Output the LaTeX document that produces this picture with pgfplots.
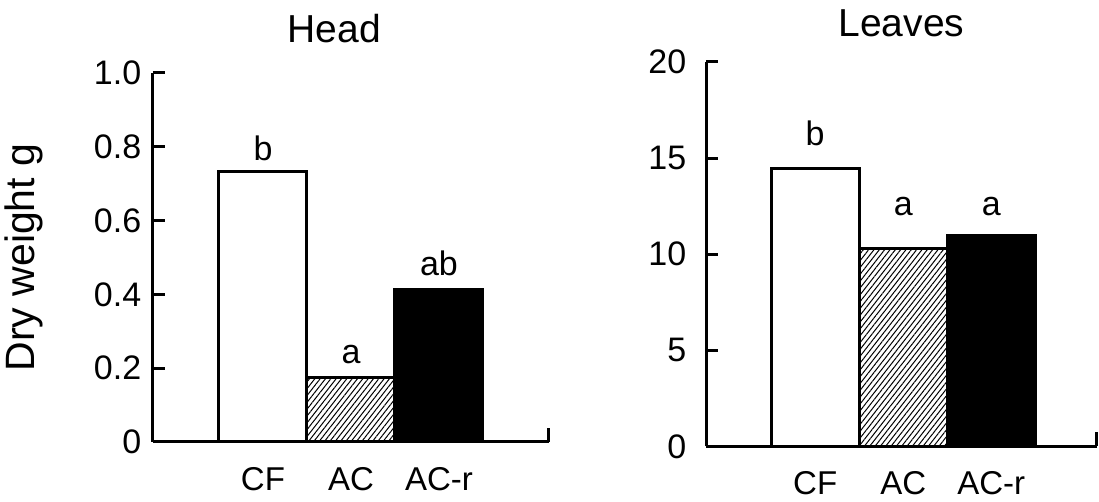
\documentclass[border=0pt]{standalone}
\usepackage{fontspec}
\setmainfont{Liberation Sans}
\usepackage{pgfplots}
\pgfplotsset{compat=1.18}
\usetikzlibrary{patterns.meta}

\pgfplotsset{
  every axis title shift=0pt,
  panel/.style={
    scale only axis,
    axis x line=bottom, axis y line=left,
    axis line style={line width=1.5pt, -},
    ymin=0,
    xmin=-1.25, xmax=3.25,
    xtick={0,1,2}, xticklabels={CF,AC,AC-r},
    x tick style={draw=none},
    xticklabel style={yshift=-4.5pt, inner sep=2pt, font=\fontsize{16.5}{20}\selectfont},
    yticklabel style={font=\fontsize{17}{20}\selectfont},
    y tick style={line width=1.5pt, black},
    tick align=inside, major tick length=6pt,
    /pgf/number format/assume math mode=true,
    ybar, bar width=44pt, bar shift=0pt,
    nodes near coords, point meta=explicit symbolic,
    every node near coord/.append style={font=\fontsize{17}{20}\selectfont, anchor=south, inner sep=0pt},
    title style={font=\fontsize{19.5}{23}\selectfont, anchor=south, inner sep=0pt},
    clip=false,
  },
  cf/.style={draw=black, line width=1.5pt, fill=white},
  ac/.style={draw=black, line width=1.5pt, pattern={Lines[angle=52, distance=2.1pt, line width=0.5pt]}},
  acr/.style={draw=black, line width=1.5pt, fill=black},
}

\begin{document}
\fontsize{17}{20}\selectfont
\begin{tikzpicture}
\useasboundingbox (-76.5pt,-30pt) rectangle (473pt,221pt);

% Head
\begin{axis}[panel,
  at={(0pt,0pt)}, anchor=south west,
  width=198pt, height=184.5pt,
  ymax=1,
  ytick={0,0.2,0.4,0.6,0.8,1.0},
  yticklabels={0,0.2,0.4,0.6,0.8,1.0},
  title={Head}, title style={at={(axis description cs:0.458,1.081)}},
  ylabel={Dry weight g},
  ylabel style={at={(axis description cs:-0.326,0.5)}, anchor=center, font=\fontsize{20.5}{24}\selectfont},
]
\addplot[cf, every node near coord/.append style={yshift=5pt}] coordinates {(0,0.732) [b]};
\addplot[ac, every node near coord/.append style={yshift=6pt}] coordinates {(1,0.176) [a]};
\addplot[acr, every node near coord/.append style={yshift=6.5pt}] coordinates {(2,0.412) [ab]};
\draw[line width=1.5pt] (axis cs:3.25,0) -- ++(0pt,7pt);
\end{axis}

% Leaves
\begin{axis}[panel,
  at={(276.5pt,-2.25pt)}, anchor=south west,
  width=195.5pt, height=192.25pt,
  xmin=-1.24, xmax=3.2,
  ymax=20,
  ytick={0,5,10,15,20},
  yticklabel style={xshift=-4pt},
  title={Leaves}, title style={at={(axis description cs:0.5,1.065)}},
]
\addplot[cf, every node near coord/.append style={yshift=10.5pt}] coordinates {(0,14.46) [b]};
\addplot[ac, every node near coord/.append style={yshift=15.5pt}] coordinates {(1,10.3) [a]};
\addplot[acr, every node near coord/.append style={yshift=9pt}] coordinates {(2,10.98) [a]};
\draw[line width=1.5pt] (axis cs:3.2,0) -- ++(0pt,7pt);
\end{axis}
\end{tikzpicture}
\end{document}
